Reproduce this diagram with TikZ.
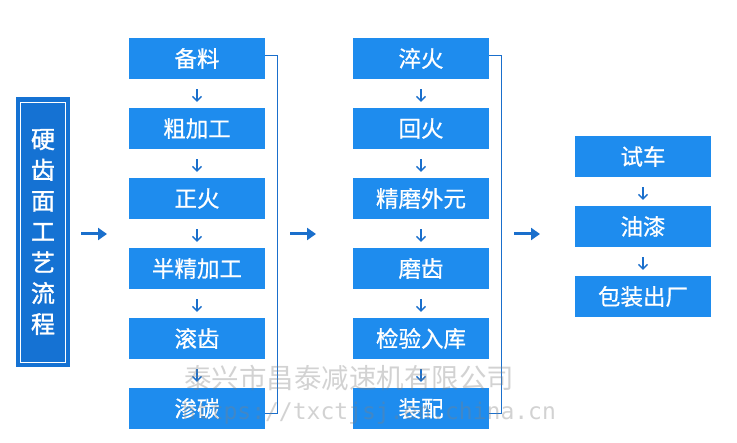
\documentclass[tikz,border=0pt]{standalone}
\usepackage{fontspec}
\newfontfamily\cjk[FakeBold=0.7]{Noto Sans CJK SC}
\newfontfamily\cjkt[FakeBold=1.4]{Noto Sans CJK SC}
\newfontfamily\cjkw{Noto Sans CJK SC}
\newfontfamily\wmmono{DejaVu Sans Mono}
\usetikzlibrary{arrows.meta}
\definecolor{boxblue}{HTML}{1E8CEE}
\definecolor{titleblue}{HTML}{1572D3}
\definecolor{arrowblue}{HTML}{1A6FCC}
\begin{document}
\begin{tikzpicture}[x=1pt,y=-1pt,
 stepbox/.style={fill=boxblue, text=white, minimum width=136pt, minimum height=41pt, inner sep=0pt, font=\cjk\fontsize{22.5}{26}\selectfont},
 smallarrow/.style={draw=arrowblue, line width=1.4pt, -{Straight Barb[length=4.5pt,width=9pt]}, shorten <=10pt, shorten >=6pt},
 bigarrow/.style={draw=arrowblue, line width=3pt, -{Triangle[length=9pt,width=12pt]}},
 bracketline/.style={draw=arrowblue, line width=0.8pt},
 watermark/.style={text=gray, opacity=0.35, inner sep=0pt}
]
\useasboundingbox[fill=white] (0,0) rectangle (737,443);
% title
\node[fill=titleblue, minimum width=54pt, minimum height=270pt, inner sep=0pt] (title) at (43,232) {};
\draw[white, line width=0.8pt] ([shift={(5pt,4.5pt)}]title.south west) rectangle ([shift={(-4.5pt,-5.5pt)}]title.north east);
\node[text=white, font=\cjkt\fontsize{24}{30.8}\selectfont, align=center, inner sep=0pt] (titletext) at (title.center) {硬\\齿\\面\\工\\艺\\流\\程};
% column 1
\node[stepbox] (c1a) at (197,58.5) {备料};
\node[stepbox] (c1b) at (197,128.5) {粗加工};
\node[stepbox] (c1c) at (197,198.5) {正火};
\node[stepbox] (c1d) at (197,268.5) {半精加工};
\node[stepbox] (c1e) at (197,338.5) {滚齿};
\node[stepbox] (c1f) at (197,408.5) {渗碳};
% column 2
\node[stepbox] (c2a) at (421,58.5) {淬火};
\node[stepbox] (c2b) at (421,128.5) {回火};
\node[stepbox] (c2c) at (421,198.5) {精磨外元};
\node[stepbox] (c2d) at (421,268.5) {磨齿};
\node[stepbox] (c2e) at (421,338.5) {检验入库};
\node[stepbox] (c2f) at (421,408.5) {装配};
% column 3
\node[stepbox] (c3a) at (643,156.5) {试车};
\node[stepbox] (c3b) at (643,226.5) {油漆};
\node[stepbox] (c3c) at (643,296.5) {包装出厂};
% small arrows
\foreach \a/\b in {c1a/c1b,c1b/c1c,c1c/c1d,c1d/c1e,c1e/c1f,c2a/c2b,c2b/c2c,c2c/c2d,c2d/c2e,c2e/c2f,c3a/c3b,c3b/c3c}
  \draw[smallarrow] (\a.south) -- (\b.north);
% brackets
\draw[bracketline] ([yshift=3.5pt]c1a.east) -- ++(12,0) |- ([yshift=-4.5pt]c1f.east);
\draw[bracketline] ([yshift=3.5pt]c2a.east) -- ++(12,0) |- ([yshift=-4.5pt]c2f.east);
% big arrows
\coordinate (g1s) at (81,234); \coordinate (g1e) at (107,234);
\coordinate (g2s) at (290,234); \coordinate (g2e) at (316,234);
\coordinate (g3s) at (514,234); \coordinate (g3e) at (540,234);
\draw[bigarrow] (g1s) -- (g1e);
\draw[bigarrow] (g2s) -- (g2e);
\draw[bigarrow] (g3s) -- (g3e);
% watermark
\node[watermark, font=\cjkw\fontsize{27.5}{30}\selectfont] (wm1) at (349,378) {泰兴市昌泰减速机有限公司};
\node[watermark, font=\wmmono\fontsize{23}{26}\selectfont] (wm2) at (369,413) {https://txctjsj.en.china.cn};
\end{tikzpicture}
\end{document}
